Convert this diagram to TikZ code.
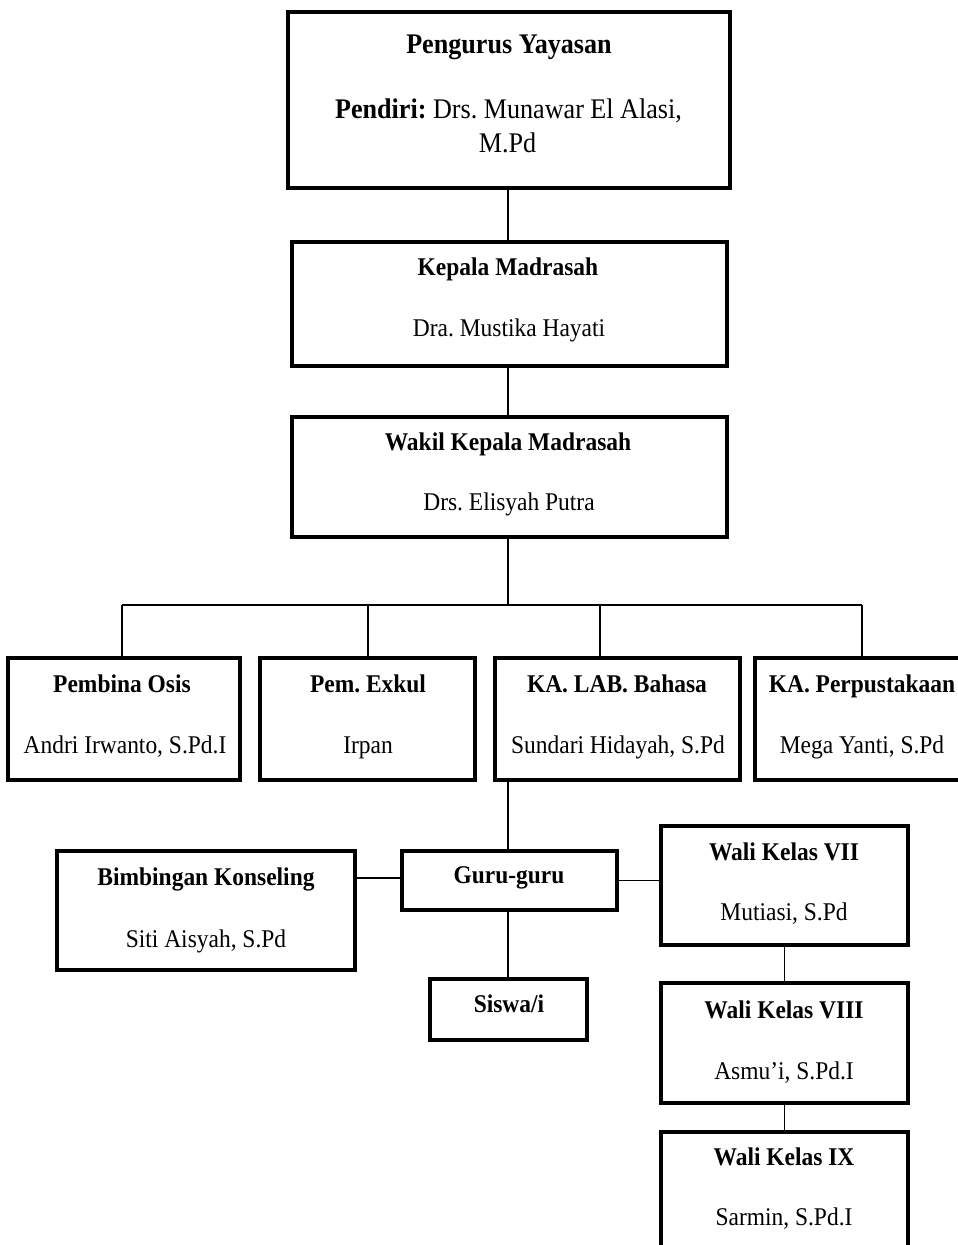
\documentclass[tikz,border=0pt]{standalone}
\usepackage{fontspec}
\setmainfont{Liberation Serif}[FakeStretch=0.92]
\frenchspacing
\begin{document}
\begin{tikzpicture}[x=1pt,y=-1pt,
  box/.style={draw=black,line width=3.2pt,inner sep=0pt,outer sep=0pt,rectangle,fill=white},
  conn/.style={draw=black,line width=1.7pt},
  txt/.style={anchor=base,inner sep=0pt,font=\fontsize{25.5}{30}\selectfont},
  ttl/.style={txt,font=\fontsize{25.5}{30}\selectfont\bfseries},
  bigtxt/.style={anchor=base,inner sep=0pt,font=\fontsize{28.4}{34}\selectfont},
]
\useasboundingbox (0,0) rectangle (958,1245);
\fill[white] (0,0) rectangle (958,1245);
\clip (0,0) rectangle (958,1245);

% boxes
\node[box,minimum width=442pt,minimum height=176pt] (yay) at (509,100) {};
\node[box,minimum width=435pt,minimum height=124pt] (kep) at (509.5,304) {};
\node[box,minimum width=435pt,minimum height=120pt] (wak) at (509.5,477) {};
\node[box,minimum width=232pt,minimum height=122pt] (osis) at (124,719) {};
\node[box,minimum width=215pt,minimum height=122pt] (exkul) at (367.5,719) {};
\node[box,minimum width=245pt,minimum height=122pt] (lab) at (617.5,719) {};
\node[box,minimum width=214pt,minimum height=122pt] (pus) at (862,719) {};
\node[box,minimum width=298pt,minimum height=119pt] (bk) at (206,910.5) {};
\node[box,minimum width=215pt,minimum height=59pt] (guru) at (509.5,880.5) {};
\node[box,minimum width=157pt,minimum height=61pt] (siswa) at (508.5,1009.5) {};
\node[box,minimum width=247pt,minimum height=119pt] (w7) at (784.5,885.5) {};
\node[box,minimum width=247pt,minimum height=120pt] (w8) at (784.5,1043) {};
\node[box,minimum width=247pt,minimum height=120pt] (w9) at (784.5,1192) {};

% texts
\node[bigtxt,font=\fontsize{28.4}{34}\selectfont\bfseries] (t1) at (509,53) {Pengurus Yayasan};
\node[bigtxt] (t1b) at (508.5,118) {\textbf{Pendiri:} Drs. Munawar El Alasi,};
\node[bigtxt] (t1c) at (507.5,152) {M.Pd};

\node[ttl] (t2) at (508,275) {Kepala Madrasah};
\node[txt] (t2b) at (509,336) {Dra. Mustika Hayati};
\node[ttl] (t3) at (508,450) {Wakil Kepala Madrasah};
\node[txt] (t3b) at (509,510) {Drs. Elisyah Putra};

\node[ttl] (t4) at (122,692) {Pembina Osis};
\node[txt] (t4b) at (125,753) {Andri Irwanto, S.Pd.I};
\node[ttl] (t5) at (368,692) {Pem. Exkul};
\node[txt] (t5b) at (368,753) {Irpan};
\node[ttl] (t6) at (617,692) {KA. LAB. Bahasa};
\node[txt] (t6b) at (618,753) {Sundari Hidayah, S.Pd};
\node[ttl] (t7) at (862,692) {KA. Perpustakaan};
\node[txt] (t7b) at (862,753) {Mega Yanti, S.Pd};

\node[ttl] (t8) at (206,885) {Bimbingan Konseling};
\node[txt] (t8b) at (206,947) {Siti Aisyah, S.Pd};
\node[ttl] (t9) at (509,883) {Guru-guru};
\node[ttl] (t10) at (509,1012) {Siswa/i};
\node[ttl] (t11) at (784,860) {Wali Kelas VII};
\node[txt] (t11b) at (784,920) {Mutiasi, S.Pd};
\node[ttl] (t12) at (784,1018) {Wali Kelas VIII};
\node[txt] (t12b) at (784,1079) {Asmu'i, S.Pd.I};
\node[ttl] (t13) at (784,1165) {Wali Kelas IX};
\node[txt] (t13b) at (784,1225) {Sarmin, S.Pd.I};

% connector coordinates
\coordinate (bus) at (508,605);
\coordinate (dOsis) at (122,605);
\coordinate (dExkul) at (368,605);
\coordinate (dLab) at (600,605);
\coordinate (dPus) at (862,605);

% connectors
\draw[conn] (yay.south -| bus) -- (kep.north -| bus);
\draw[conn] (kep.south -| bus) -- (wak.north -| bus);
\draw[conn] (wak.south -| bus) -- (bus);
\draw[conn] (dOsis) -- (dPus);
\draw[conn] (dOsis) -- (dOsis |- osis.north);
\draw[conn] (dExkul) -- (dExkul |- exkul.north);
\draw[conn] (dLab) -- (dLab |- lab.north);
\draw[conn] (dPus) -- (dPus |- pus.north);
\draw[conn] (lab.south -| bus) -- (guru.north -| bus);
\draw[conn] (bk.east |- 0,878) -- (guru.west |- 0,878);
\draw[conn] (guru.east) -- (guru.east -| w7.west);
\draw[conn] (guru.south -| bus) -- (siswa.north -| bus);
\draw[conn] (w7.south) -- (w8.north);
\draw[conn] (w8.south) -- (w9.north);
\end{tikzpicture}
\end{document}
